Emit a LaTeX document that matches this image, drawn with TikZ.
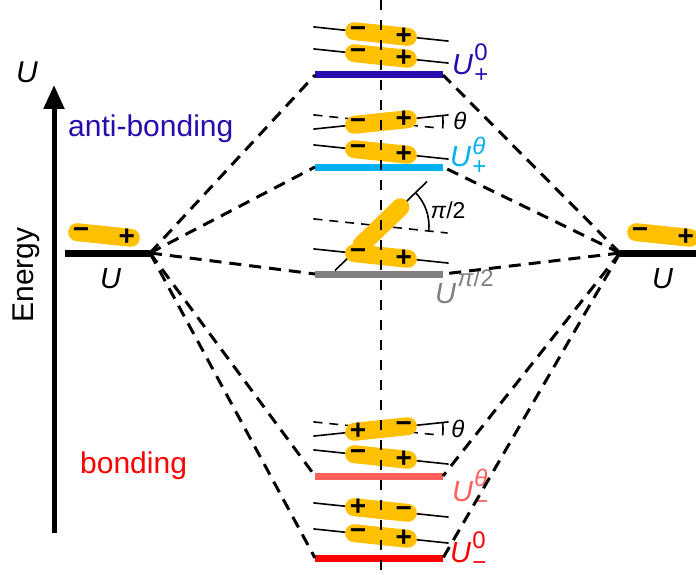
\documentclass[tikz,border=0pt]{standalone}
\usepackage{fontspec}
\setmainfont{Liberation Sans}
\usetikzlibrary{arrows.meta,calc}

\definecolor{dipcol}{RGB}{255,192,0}
\definecolor{apblue}{RGB}{40,10,175}
\definecolor{thcyan}{RGB}{0,176,240}
\definecolor{hpgray}{RGB}{128,128,128}
\definecolor{mtsalmon}{RGB}{255,95,90}
\definecolor{mzred}{RGB}{255,0,0}

\tikzset{
  capsule/.style={line width=18pt,line cap=round,draw=dipcol},
  sign/.style={inner sep=0pt,font=\fontsize{28}{28}\selectfont\bfseries},
  dline/.style={line width=1.6pt},
  refline/.style={line width=1.6pt,dash pattern=on 9pt off 7pt},
  level/.style={line width=7pt},
  conn/.style={line width=3pt,dash pattern=on 12pt off 8pt},
  lab/.style={inner sep=0pt,anchor=base west,font=\fontsize{29}{34}\selectfont}
}

% U with stacked super- and subscript
\newcommand{\lvlab}[3]{\textit{U}\kern1pt\makebox[0pt][l]{\raisebox{#3}{\fontsize{24}{24}\selectfont #1}}\raisebox{-8pt}{\fontsize{24}{24}\selectfont #2}}

% name, angle, left sign, right sign, half length of the line through it
\newcommand{\dipole}[5]{%
  \draw[dline] ($(#1)+(#2:-#5)$) -- ($(#1)+(#2:#5)$);
  \draw[capsule] ($(#1)+(#2:-27)$) -- ($(#1)+(#2:27)$);
  \node[sign] (#1-l) at ($(#1)+(#2:-23)$) {#3};
  \node[sign] (#1-r) at ($(#1)+(#2:23)$) {#4};
}

\begin{document}
\begin{tikzpicture}[x=1pt,y=-1pt,font=\fontsize{30}{36}\selectfont]
\clip (0,0) rectangle (696,575);

% energy axis
\coordinate (ebot) at (54,533);
\coordinate (etop) at (54,85);
\draw[line width=5pt,-{Triangle[length=24pt,width=20pt]}] (ebot) -- (etop);
\node[inner sep=0pt] (uaxis) at (27,72) {\textit{U}};
\node[inner sep=0pt,rotate=90] (energy) at (26,275) {Energy};
\node[inner sep=0pt,anchor=base west,text=apblue] (anti) at (68,137) {anti-bonding};
\node[inner sep=0pt,anchor=base west,text=mzred] (bond) at (80,473) {bonding};

% single dipoles
\coordinate (Lw) at (65,253);
\coordinate (L) at (150,253);
\coordinate (R) at (620,253);
\coordinate (Re) at (700,253);
\draw[level] (Lw) -- (L);
\draw[level] (R) -- (Re);
\node[lab] (ul) at (100,288) {\textit{U}};
\node[lab] (ur) at (652,288) {\textit{U}};
\coordinate (sl) at (104,235);
\coordinate (sr) at (663,235);
\dipole{sl}{6}{−}{+}{0}
\dipole{sr}{6}{−}{+}{0}

% pair levels
\coordinate (p0w) at (315,75);  \coordinate (p0e) at (443,75);
\coordinate (ptw) at (315,167); \coordinate (pte) at (443,167);
\coordinate (hpw) at (315,274); \coordinate (hpe) at (443,274);
\coordinate (mtw) at (315,476); \coordinate (mte) at (443,476);
\coordinate (m0w) at (315,558); \coordinate (m0e) at (443,558);
\draw[level,apblue] (p0w) -- (p0e);
\draw[level,thcyan] (ptw) -- (pte);
\draw[level,hpgray] (hpw) -- (hpe);
\draw[level,mtsalmon] (mtw) -- (mte);
\draw[level,mzred] (m0w) -- (m0e);
\node[lab,text=apblue] (lp0) at (452,75) {\lvlab{0}{+}{14pt}};
\node[lab,text=thcyan] (lpt) at (450,167) {\lvlab{\textit{θ}}{+}{13pt}};
\node[lab,text=hpgray] (lhp) at (435,303) {\lvlab{\textit{π}/2}{}{17pt}};
\node[lab,text=mtsalmon] (lmt) at (452,501) {\lvlab{\textit{θ}}{−}{15pt}};
\node[lab,text=mzred] (lm0) at (450,562) {\lvlab{0}{−}{14pt}};

% dashed connectors
\draw[conn] (L) -- (p0w);
\draw[conn] (L) -- (ptw);
\draw[conn] (L) -- (hpw);
\draw[conn] (L) -- (mtw);
\draw[conn] (L) -- (m0w);
\draw[conn] (R) -- (p0e);
\draw[conn] (R) -- (pte);
\draw[conn] (R) -- (hpe);
\draw[conn] (R) -- (mte);
\draw[conn] (R) -- (m0e);

% dipole pairs
\coordinate (a1) at (381,34);
\coordinate (a2) at (381,56);
\coordinate (b1) at (381,122);
\coordinate (b2) at (381,152);
\coordinate (c1) at (381,226);
\coordinate (c2) at (381,256);
\coordinate (d1) at (381,429);
\coordinate (d2) at (381,457);
\coordinate (e1) at (381,510);
\coordinate (e2) at (381,536);

\draw[refline] ($(b1)+(6:-68)$) -- ($(b1)+(6:57)$);
\draw[refline] ($(c1)+(6:-68)$) -- ($(c1)+(6:67)$);
\draw[refline] ($(d1)+(6:-68)$) -- ($(d1)+(6:57)$);

\dipole{a1}{6}{−}{+}{68}
\dipole{a2}{6}{−}{+}{68}
\dipole{b1}{-6}{−}{+}{68}
\dipole{b2}{6}{−}{+}{68}
\dipole{c1}{-44}{}{}{64}
\dipole{c2}{6}{−}{+}{68}
\dipole{d1}{-6}{+}{−}{68}
\dipole{d2}{6}{−}{+}{68}
\dipole{e1}{6}{+}{−}{68}
\dipole{e2}{6}{−}{+}{68}

% angles
\draw[line width=1.6pt] ($(b1)+(-6:62)$) arc[start angle=-6,end angle=6,radius=62];
\draw[line width=1.6pt] ($(d1)+(-6:62)$) arc[start angle=-6,end angle=6,radius=62];
\draw[line width=1.6pt] ($(c1)+(-44:48)$) arc[start angle=-44,end angle=6,radius=48];
\node[inner sep=0pt,font=\fontsize{24}{24}\selectfont] (thb) at (460,121) {\textit{θ}};
\node[inner sep=0pt,font=\fontsize{24}{24}\selectfont] (thd) at (458,429) {\textit{θ}};
\node[inner sep=0pt,font=\fontsize{23}{23}\selectfont] (hpi) at (448,210) {\textit{π}/2};

% symmetry axis
\coordinate (vtop) at (381,0);
\coordinate (vbot) at (381,575);
\draw[line width=2.2pt,dash pattern=on 10pt off 10pt] (vtop) -- (vbot);
\end{tikzpicture}
\end{document}
